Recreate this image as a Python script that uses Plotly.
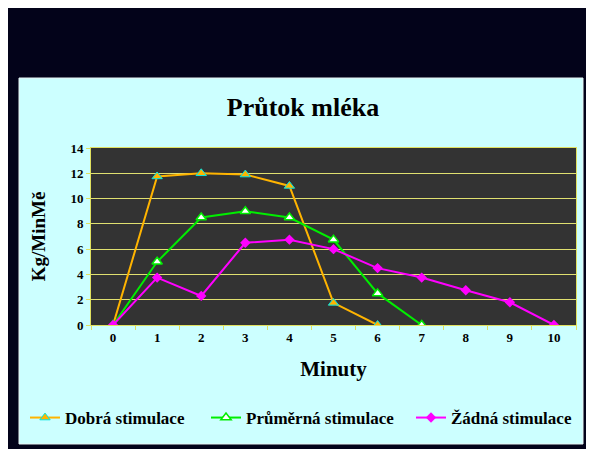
import plotly.graph_objects as go

minutes = ["0", "1", "2", "3", "4", "5", "6", "7", "8", "9", "10"]
dobra = [0, 11.75, 12, 11.9, 11, 1.75, 0]
prumerna = [0, 5, 8.5, 9, 8.5, 6.75, 2.5, 0]
zadna = [0, 3.75, 2.3, 6.5, 6.75, 6, 4.5, 3.75, 2.75, 1.8, 0]
y_ticks = [0, 2, 4, 6, 8, 10, 12, 14]

OFF = 8  # page body margin
W, H = 594 - OFF, 449 - OFF
L, R, T, B = 91 - OFF, 594 - 576, 148 - OFF, 449 - 325
pw, ph = W - L - R, H - T - B

def px(x):  # screen x -> paper
    return (x - OFF - L) / pw

def py(y):  # screen y -> paper
    return (H - B - (y - OFF)) / ph

serif = "Liberation Serif"
bold = dict(family=serif, color="#000000", weight="bold")

fig = go.Figure()
fig.add_trace(go.Scatter(
    x=minutes[:len(dobra)], y=dobra, mode="lines+markers", name="Dobrá stimulace",
    line=dict(color="#FFB400", width=2), legend="legend",
    marker=dict(symbol="triangle-up", size=9, color="#FFB400", line=dict(color="#00E5E5", width=1)),
))
fig.add_trace(go.Scatter(
    x=minutes[:len(prumerna)], y=prumerna, mode="lines+markers", name="Průměrná stimulace",
    line=dict(color="#00EE00", width=2), legend="legend2",
    marker=dict(symbol="triangle-up", size=9, color="#FFFFFF", line=dict(color="#00EE00", width=1.5)),
))
fig.add_trace(go.Scatter(
    x=minutes[:len(zadna)], y=zadna, mode="lines+markers", name="Žádná stimulace",
    line=dict(color="#FF00FF", width=2), legend="legend3",
    marker=dict(symbol="diamond", size=8, color="#FF00FF"),
))

shapes = [
    # cyan chart panel
    dict(type="rect", xref="paper", yref="paper", x0=px(19), x1=px(583), y0=py(444), y1=py(78),
         fillcolor="#CCFFFF", line=dict(color="#E8F4F4", width=1), layer="below"),
    # dark plot area
    dict(type="rect", xref="paper", yref="paper", x0=0, x1=1, y0=0, y1=1,
         fillcolor="#333333", line=dict(width=0), layer="below"),
]

def leg(xs):
    return dict(orientation="h", x=px(xs), xanchor="left", y=py(418), yanchor="middle",
                font=dict(size=17, **bold), bgcolor="rgba(0,0,0,0)")

fig.update_layout(
    width=W, height=H,
    margin=dict(l=L, r=R, t=T, b=B),
    paper_bgcolor="#03031A",
    plot_bgcolor="#333333",
    shapes=shapes,
    showlegend=True,
    title=dict(text="Průtok mléka", x=(303 - OFF) / W, xanchor="center",
               y=1 - (107 - OFF) / H, yanchor="middle",
               font=dict(size=26, **bold)),
    xaxis=dict(
        type="category", categoryorder="array", categoryarray=minutes,
        range=[-0.5, 10.5], tickson="boundaries",
        ticks="outside", ticklen=4, tickcolor="#E0E060",
        showgrid=False, showline=True, linecolor="#E0E060", linewidth=1, mirror=True,
        tickfont=dict(size=13, **bold),
        title=dict(text="Minuty", font=dict(size=21, **bold), standoff=17),
    ),
    yaxis=dict(
        range=[0, 14], tickvals=y_ticks,
        ticks="outside", ticklen=4, tickcolor="#E0E060",
        showgrid=True, gridcolor="#E0E070", gridwidth=1,
        showline=True, linecolor="#E0E060", linewidth=1, mirror=True, zeroline=False,
        tickfont=dict(size=13, **bold),
        title=dict(text="Kg/MinMě", font=dict(size=19, **bold), standoff=19),
    ),
    legend=leg(25),
    legend2=leg(206),
    legend3=leg(411),
)

fig.write_html("out.html")
